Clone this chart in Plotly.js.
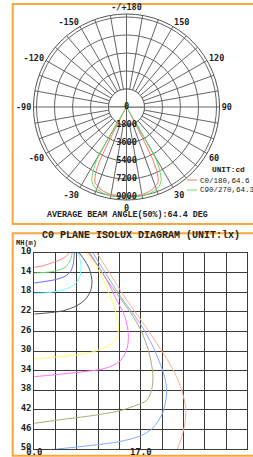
<!DOCTYPE html>
<html>
<head>
<meta charset="utf-8">
<script src="https://cdn.plot.ly/plotly-3.0.1.min.js"></script>
<style>
  html, body { margin: 0; padding: 0; background: #fff; }
  #chart { width: 253px; height: 457px; }
</style>
</head>
<body>
<div id="chart"></div>
<script>
// ---------- Polar (luminous intensity) data ----------
const seriesNames = ['C0/180', 'C90/270'];
const seriesBeamAngles = ['64.6', '64.3'];
const averageBeamText = 'AVERAGE BEAM ANGLE(50%):64.4 DEG';
const intensityUnit = 'UNIT:cd';

const c0Theta = [-90, -40, -35, -30, -28.3, -27.7, -27.2, -26.6, -25.5, -24, -22.4, -20, -18, -15, -10, 0,
                 10, 15, 18, 20, 22.4, 24, 25.5, 26.6, 27.2, 27.7, 28.3, 30, 35, 40, 90];
const c0R =     [0, 0, 50, 200, 800, 2000, 4000, 5900, 7000, 7800, 8250, 8400, 8600, 8750, 8900, 8950,
                 8900, 8750, 8600, 8400, 8250, 7800, 7000, 5900, 4000, 2000, 800, 200, 50, 0, 0];

const c90Theta = [-90, -45, -40, -35, -32, -31, -30.5, -30, -29.4, -28, -26.5, -25.5, -23, -20, -15, -10, 0,
                  10, 15, 20, 23, 25.5, 26.5, 28, 29.4, 30, 30.5, 31, 32, 35, 40, 45, 90];
const c90R =     [0, 0, 30, 100, 300, 800, 2000, 4000, 6100, 7000, 7700, 8100, 8500, 8750, 8950, 9020, 9030,
                  9020, 8950, 8750, 8500, 8100, 7700, 7000, 6100, 4000, 2000, 800, 300, 100, 30, 0, 0];

const radialTickVals = [0, 1800, 3600, 5400, 7200, 9000];
const radialTickText = ['0', '1800', '3600', '5400', '7200', '9000'];
const radialMax = 9300;

const angleGrid = [0,10,20,30,40,50,60,70,80,90,100,110,120,130,140,150,160,170,
                   180,190,200,210,220,230,240,250,260,270,280,290,300,310,320,330,340,350];
const angleLabelVals = [0, 30, 60, 90, 120, 150, 180, 210, 240, 270, 300, 330];
const angleLabelText = ['0', '30', '60', '90', '120', '150', '-/+180', '-150', '-120', '-90', '-60', '-30'];

// ---------- Isolux data (x: distance m, y: mounting height m) ----------
const isoluxTitle = 'C0 PLANE ISOLUX DIAGRAM (UNIT:lx)';
const yAxisLabel = 'MH(m)';
const xGridVals = [0, 3.4, 6.8, 10.2, 13.6, 17, 20.4, 23.8, 27.2, 30.6, 34];
const xGridText = ['0.0', '', '', '', '', '17.0', '', '', '', '', '34.0'];
const yTickVals = [10, 14, 18, 22, 26, 30, 34, 38, 42, 46, 50];
const yTickText = ['10', '14', '18', '22', '26', '30', '34', '38', '42', '46', '50'];

const luxRedX = [0, 1.44, 3.04, 4.37, 5.17, 5.59];
const luxRedY = [12.92, 12.59, 11.9, 11.22, 10.55, 10.0];
const luxGreenX = [0, 1.98, 3.58, 4.9, 5.59, 5.9, 6.02];
const luxGreenY = [14.08, 13.94, 13.61, 12.92, 11.9, 10.88, 10.0];
const luxBlueX = [0, 1.44, 3.3, 4.9, 5.81, 6.22, 6.34, 6.38];
const luxBlueY = [16.12, 15.86, 15.45, 14.76, 13.73, 12.24, 10.88, 10.0];
const luxCyanX = [0, 1.71, 4.1, 5.7, 6.77, 7.29, 7.45, 7.29, 7.02];
const luxCyanY = [18.22, 18.16, 17.69, 17.0, 15.98, 14.63, 12.92, 11.22, 10.0];
const luxGrayX = [0, 1.98, 4.63, 6.77, 8.2, 9.0, 9.2, 8.8, 7.9, 7.18];
const luxGrayY = [22.45, 22.24, 21.78, 20.76, 19.39, 17.69, 15.65, 13.27, 11.22, 10.0];
const luxYellowX = [8.25, 10.49, 12.35, 13.15, 13.41, 12.88, 11.56, 9.42, 7.29, 5.17, 2.51, 0];
const luxYellowY = [10, 14.14, 19.59, 23.0, 25.71, 27.76, 29.12, 30.14, 30.71, 31.02, 31.33, 31.63];
const luxMagentaX = [8.62, 10.96, 13.15, 14.47, 15.0, 14.87, 14.0, 12.56, 10.49, 8.09, 5.17, 2.51, 0];
const luxMagentaY = [10, 14.14, 19.59, 23.0, 26.4, 29.18, 31.63, 32.96, 33.78, 34.18, 34.59, 34.94, 35.24];
const luxOliveX = [8.89, 11.28, 13.68, 15.8, 17.14, 18.2, 18.79, 18.94, 18.63, 17.83, 16.39, 13.68, 9.96, 4.63, 0];
const luxOliveY = [10, 14.9, 19.18, 23.0, 26.12, 29.8, 33.27, 35.92, 38.37, 40.2, 41.02, 42.18, 43.06, 43.94, 44.76];
const luxSkyX = [9.37, 11.76, 14.16, 16.87, 18.74, 20.06, 20.86, 21.13, 20.86, 20.33, 18.94, 16.87, 13.68, 11.56, 7.29, 3.58];
const luxSkyY = [10, 14.9, 19.59, 24.35, 28.57, 32.51, 35.51, 38.37, 41.02, 43.06, 45.71, 47.35, 48.47, 48.88, 49.53, 50.0];
const luxSalmonX = [10.01, 12.4, 14.75, 17.4, 19.74, 21.66, 22.93, 23.65, 24.16, 24.05, 23.52, 22.82];
const luxSalmonY = [10, 14.9, 19.59, 24.35, 28.78, 32.65, 35.92, 38.57, 41.43, 44.69, 47.55, 50.0];

// ---------- Styling ----------
const W = 253, H = 457;
const px = v => v / W;
const py = v => 1 - v / H;
const orange = '#f5a93c';
const gridCol = '#666';
const isoGrid = '#3c3c3c';
const monoSans = 'DejaVu Sans Mono, monospace';
const monoSerif = 'Liberation Mono, Courier New, monospace';
const polarColors = ['#ff7373', '#5ee65e'];

const isoluxCurves = [
  [luxRedX, luxRedY, '#ff8080'],
  [luxGreenX, luxGreenY, '#70dd70'],
  [luxBlueX, luxBlueY, '#6a6af2'],
  [luxCyanX, luxCyanY, '#70ffff'],
  [luxGrayX, luxGrayY, '#555555'],
  [luxYellowX, luxYellowY, '#ffff66'],
  [luxMagentaX, luxMagentaY, '#ff70ff'],
  [luxOliveX, luxOliveY, '#aaaa78'],
  [luxSkyX, luxSkyY, '#80aaff'],
  [luxSalmonX, luxSalmonY, '#ffae90']
];

const traces = [];

// inner hub: covers the spokes inside the first ring, edges redraw the cross
traces.push({
  type: 'barpolar', subplot: 'polar',
  r: [radialTickVals[1], radialTickVals[1], radialTickVals[1], radialTickVals[1]],
  theta: [45, 135, 225, 315], width: [90, 90, 90, 90],
  marker: { color: '#fff', line: { color: gridCol, width: 1 } },
  hoverinfo: 'skip', showlegend: false
});

traces.push({
  type: 'scatterpolar', subplot: 'polar', mode: 'lines',
  r: c0R, theta: c0Theta, name: seriesNames[0],
  line: { color: polarColors[0], width: 1 }, showlegend: false
});
traces.push({
  type: 'scatterpolar', subplot: 'polar', mode: 'lines',
  r: c90R, theta: c90Theta, name: seriesNames[1],
  line: { color: polarColors[1], width: 1 }, showlegend: false
});
traces.push({
  type: 'scatterpolar', subplot: 'polar', mode: 'text',
  r: radialTickVals, theta: radialTickVals.map(() => 0), text: radialTickText,
  textposition: 'middle center', cliponaxis: false,
  textfont: { family: monoSans, size: 8.6, color: '#222', weight: 'bold' },
  hoverinfo: 'skip', showlegend: false
});

isoluxCurves.forEach(([x, y, c]) => {
  traces.push({
    type: 'scatter', xaxis: 'x', yaxis: 'y', mode: 'lines', x: x, y: y,
    line: { color: c, width: 1, shape: 'spline', smoothing: 0.8 },
    hoverinfo: 'skip', showlegend: false, cliponaxis: true
  });
});

const layout = {
  width: W, height: H,
  margin: { l: 0, r: 0, t: 0, b: 0 },
  paper_bgcolor: '#fff', plot_bgcolor: '#fff',
  showlegend: false,
  polar: {
    domain: { x: [px(33.5), px(219.5)], y: [py(200), py(14)] },
    bgcolor: '#fff',
    angularaxis: {
      rotation: 270, direction: 'counterclockwise',
      tickmode: 'array', tickvals: angleGrid,
      ticktext: angleGrid.map(a => { const i = angleLabelVals.indexOf(a); return i >= 0 ? angleLabelText[i] : ''; }),
      showgrid: true, gridcolor: gridCol, gridwidth: 1,
      showline: true, linecolor: '#555', linewidth: 1, ticks: '',
      tickfont: { family: monoSans, size: 8.5, color: '#222', weight: 'bold' }
    },
    radialaxis: {
      range: [0, radialMax], tickmode: 'array', tickvals: radialTickVals.slice(1),
      showticklabels: false, showline: false, ticks: '',
      showgrid: true, gridcolor: gridCol, gridwidth: 1
    }
  },
  xaxis: {
    domain: [px(34.3), px(247.3)], anchor: 'y', range: [0, 34],
    tickmode: 'array', tickvals: xGridVals, ticktext: xGridText,
    showgrid: true, gridcolor: isoGrid, gridwidth: 1, zeroline: false,
    showline: true, mirror: true, linecolor: isoGrid, linewidth: 1, ticks: '',
    ticklabelstandoff: -6,
    tickfont: { family: monoSans, size: 9, color: '#222', weight: 'bold' }
  },
  yaxis: {
    domain: [py(449), py(253)], anchor: 'x', range: [50, 10],
    tickmode: 'array', tickvals: yTickVals, ticktext: yTickText,
    showgrid: true, gridcolor: isoGrid, gridwidth: 1, zeroline: false,
    showline: true, mirror: true, linecolor: isoGrid, linewidth: 1, ticks: '',
    ticklabelshift: 2,
    tickfont: { family: monoSans, size: 9, color: '#222', weight: 'bold' }
  },
  shapes: [
    { type: 'rect', xref: 'paper', yref: 'paper', x0: px(12.7), x1: px(262), y0: py(224), y1: py(4),
      line: { color: orange, width: 2 }, layer: 'below' },
    { type: 'rect', xref: 'paper', yref: 'paper', x0: px(12.7), x1: px(262), y0: py(455.7), y1: py(233.3),
      line: { color: orange, width: 2 }, layer: 'below' },
    { type: 'line', xref: 'paper', yref: 'paper', x0: px(187), x1: px(197), y0: py(180), y1: py(180),
      line: { color: polarColors[0], width: 1 } },
    { type: 'line', xref: 'paper', yref: 'paper', x0: px(187), x1: px(197), y0: py(190), y1: py(190),
      line: { color: polarColors[1], width: 1 } }
  ],
  annotations: [
    { xref: 'paper', yref: 'paper', x: px(127), y: py(215), text: averageBeamText, showarrow: false,
      xanchor: 'center', yanchor: 'middle',
      font: { family: monoSerif, size: 8.4, color: '#222', weight: 'bold' } },
    { xref: 'paper', yref: 'paper', x: px(228.5), y: py(170.5), text: intensityUnit, showarrow: false,
      xanchor: 'center', yanchor: 'middle',
      font: { family: monoSerif, size: 7.8, color: '#222', weight: 'bold' } },
    { xref: 'paper', yref: 'paper', x: px(198), y: py(180.5), text: seriesNames[0] + ',' + seriesBeamAngles[0],
      showarrow: false, xanchor: 'left', yanchor: 'middle',
      font: { family: monoSerif, size: 7.5, color: '#222' } },
    { xref: 'paper', yref: 'paper', x: px(198), y: py(190.5), text: seriesNames[1] + ',' + seriesBeamAngles[1],
      showarrow: false, xanchor: 'left', yanchor: 'middle',
      font: { family: monoSerif, size: 7.5, color: '#222' } },
    { xref: 'paper', yref: 'paper', x: px(141), y: py(235.5), text: isoluxTitle, showarrow: false,
      xanchor: 'center', yanchor: 'middle',
      font: { family: monoSerif, size: 10, color: '#222', weight: 'bold' } },
    { xref: 'paper', yref: 'paper', x: px(13.5), y: py(243.5), text: yAxisLabel, showarrow: false,
      xanchor: 'left', yanchor: 'middle',
      font: { family: monoSerif, size: 7, color: '#222', weight: 'bold' } }
  ]
};

Plotly.newPlot('chart', traces, layout, { staticPlot: true, displayModeBar: false });
</script>
</body>
</html>
